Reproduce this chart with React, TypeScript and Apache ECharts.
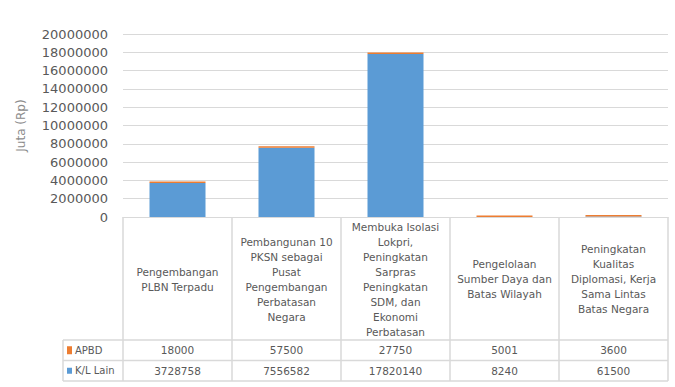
import React, { useEffect, useRef } from "react";
import * as echarts from "echarts";

const categories = [
  "Pengembangan\nPLBN Terpadu",
  "Pembangunan 10\nPKSN sebagai\nPusat\nPengembangan\nPerbatasan\nNegara",
  "Membuka Isolasi\nLokpri,\nPeningkatan\nSarpras\nPeningkatan\nSDM, dan\nEkonomi\nPerbatasan",
  "Pengelolaan\nSumber Daya dan\nBatas Wilayah",
  "Peningkatan\nKualitas\nDiplomasi, Kerja\nSama Lintas\nBatas Negara",
];
const seriesNames = ["APBD", "K/L Lain"];
const apbd = [18000, 57500, 27750, 5001, 3600];
const klLain = [3728758, 7556582, 17820140, 8240, 61500];
const yTicks = { min: 0, max: 20000000, interval: 2000000 };

const ORANGE = "#ED7D31";
const BLUE = "#5B9BD5";
const GRID = "#d9d9d9";
const TEXT = "#595959";
const FONT = "DejaVu Sans";

export default function App() {
  const ref = useRef<HTMLDivElement>(null);
  useEffect(() => {
    if (!ref.current) return;
    const chart = echarts.init(ref.current, null, { renderer: "svg" });
    const gridLeft = 123;
    const gridRight = 668;
    const gridTop = 34;
    const gridBottom = 217;
    chart.setOption({
      animation: false,
      grid: { left: gridLeft, right: 675 - gridRight, top: gridTop, bottom: 387 - gridBottom },
      xAxis: {
        type: "category",
        data: categories,
        axisLine: { show: true, lineStyle: { color: GRID } },
        axisTick: { show: false },
        axisLabel: {
          interval: 0,
          margin: 62,
          verticalAlign: "middle",
          lineHeight: 15,
          fontSize: 10.5,
          fontFamily: FONT,
          color: TEXT,
        },
      },
      yAxis: {
        type: "value",
        min: yTicks.min,
        max: yTicks.max,
        interval: yTicks.interval,
        name: "Juta (Rp)",
        nameLocation: "middle",
        nameRotate: 90,
        nameGap: 96,
        nameTextStyle: { color: "#8c8c8c", fontSize: 12, fontFamily: FONT },
        axisLabel: {
          color: TEXT,
          fontSize: 13,
          fontFamily: FONT,
          margin: 15,
          formatter: (v: number) => String(v),
        },
        splitLine: { lineStyle: { color: GRID } },
        axisLine: { show: false },
        axisTick: { show: false },
      },
      series: [
        {
          name: seriesNames[1],
          type: "bar",
          stack: "total",
          data: klLain,
          barWidth: 56,
          itemStyle: { color: BLUE },
        },
        {
          name: seriesNames[0],
          type: "bar",
          stack: "total",
          data: apbd,
          barWidth: 56,
          barMinHeight: 1.5,
          itemStyle: { color: ORANGE },
        },
      ],
    });

    // Data table drawn from the chart's own category scale
    const catW = (gridRight - gridLeft) / categories.length;
    const centers = categories.map((_, i) => chart.convertToPixel({ xAxisIndex: 0 }, i) as number);
    const bounds = [gridLeft, ...centers.map((c) => c + catW / 2)];
    const rowTop = 340;
    const rowMid = 360.5;
    const rowBot = 381;
    const legLeft = 63;
    const lineStyle = { stroke: GRID, lineWidth: 1.5 };
    const elements: any[] = [];
    bounds.forEach((x) => {
      elements.push({ type: "line", shape: { x1: x, y1: gridBottom, x2: x, y2: rowBot }, style: lineStyle, silent: true });
    });
    elements.push({ type: "line", shape: { x1: legLeft, y1: rowTop, x2: legLeft, y2: rowBot }, style: lineStyle });
    [rowTop, rowMid, rowBot].forEach((y) => {
      elements.push({ type: "line", shape: { x1: legLeft, y1: y, x2: gridRight, y2: y }, style: lineStyle });
    });
    const rows = [
      { name: seriesNames[0], color: ORANGE, values: apbd, y: (rowTop + rowMid) / 2 },
      { name: seriesNames[1], color: BLUE, values: klLain, y: (rowMid + rowBot) / 2 },
    ];
    rows.forEach((r, ri) => {
      elements.push({
        type: "rect",
        shape: { x: 67, y: r.y - (ri === 0 ? 4 : 3), width: 5, height: ri === 0 ? 8 : 6 },
        style: { fill: r.color },
      });
      elements.push({
        type: "text",
        x: 75,
        y: r.y,
        style: { text: r.name, fill: TEXT, font: `10px ${FONT}`, verticalAlign: "middle" },
      });
      r.values.forEach((v, i) => {
        elements.push({
          type: "text",
          x: centers[i],
          y: r.y,
          style: {
            text: String(v),
            fill: TEXT,
            font: `10.5px ${FONT}`,
            align: "center",
            verticalAlign: "middle",
          },
        });
      });
    });
    chart.setOption({ graphic: { elements } });
    return () => chart.dispose();
  }, []);
  return <div ref={ref} style={{ width: 675, height: 387, position: "absolute", left: 0, top: 0 }} />;
}
